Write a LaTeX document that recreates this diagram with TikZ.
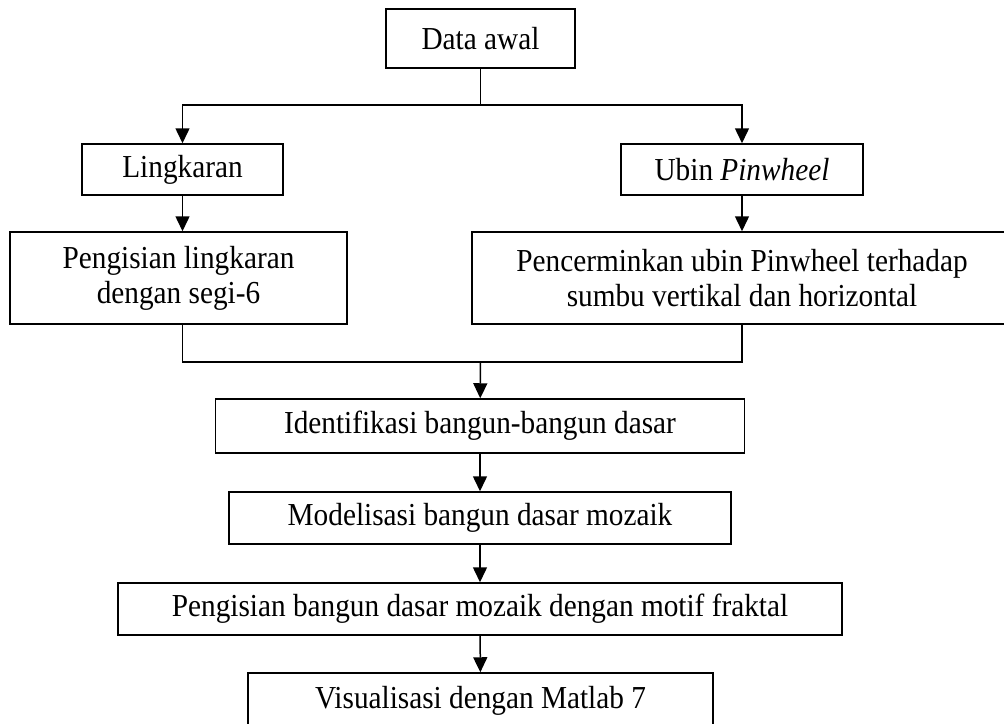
\documentclass[tikz,border=0pt]{standalone}
\usepackage{fontspec}
\setmainfont{Liberation Serif}[FakeStretch=0.915]
\usetikzlibrary{arrows.meta}
\tikzset{
  box/.style={draw, line width=1.5pt, inner sep=0pt, align=center,
    font=\fontsize{32}{35}\selectfont},
  flow/.style={line width=1.5pt, -{Triangle[length=15pt,width=14pt]}}
}
\begin{document}
\begin{tikzpicture}[x=1pt, y=-1pt]
      \useasboundingbox (0,0) rectangle (1004,723);
      \clip (0,0) rectangle (1004,723);
      \draw
        (480.5,38.5) node[box, minimum width=189pt, minimum height=59pt] (0){Data awal}
        (182.5,169.5) node[box, minimum width=201pt, minimum height=51pt] (1){Lingkaran}
        (742,169.5) node[box, minimum width=242pt, minimum height=51pt] (2){Ubin \textit{Pinwheel}}
        (178.5,278) node[box, minimum width=337pt, minimum height=92pt] (3){Pengisian lingkaran\\dengan segi-6}
        (742,278) node[box, minimum width=540pt, minimum height=92pt] (4){Pencerminkan ubin Pinwheel terhadap\\sumbu vertikal dan horizontal}
        (480,426) node[box, minimum width=529pt, minimum height=54pt] (5){Identifikasi bangun-bangun dasar}
        (480,518) node[box, minimum width=502pt, minimum height=52pt] (6){Modelisasi bangun dasar mozaik}
        (480,609) node[box, minimum width=724pt, minimum height=52pt] (7){Pengisian bangun dasar mozaik dengan motif fraktal}
        (480.5,701) node[box, minimum width=465pt, minimum height=56pt] (8){Visualisasi dengan Matlab 7};
      \coordinate (j0) at (480.5,105);
      \coordinate (j1) at (480.5,362);
      \begin{scope}[flow]
        \draw[-] (0) -- (j0);
        \draw (j0) -| (1);
        \draw (j0) -| (2);
        \draw (1) -- (1 |- 3.north);
        \draw (2) -- (2 |- 4.north);
        \draw[-] (1 |- 3.south) |- (j1);
        \draw[-] (2 |- 4.south) |- (j1);
        \draw (j1) -- (5);
        \draw (5) -- (6);
        \draw (6) -- (7);
        \draw (7) -- (8);
      \end{scope}
    \end{tikzpicture}
\end{document}
